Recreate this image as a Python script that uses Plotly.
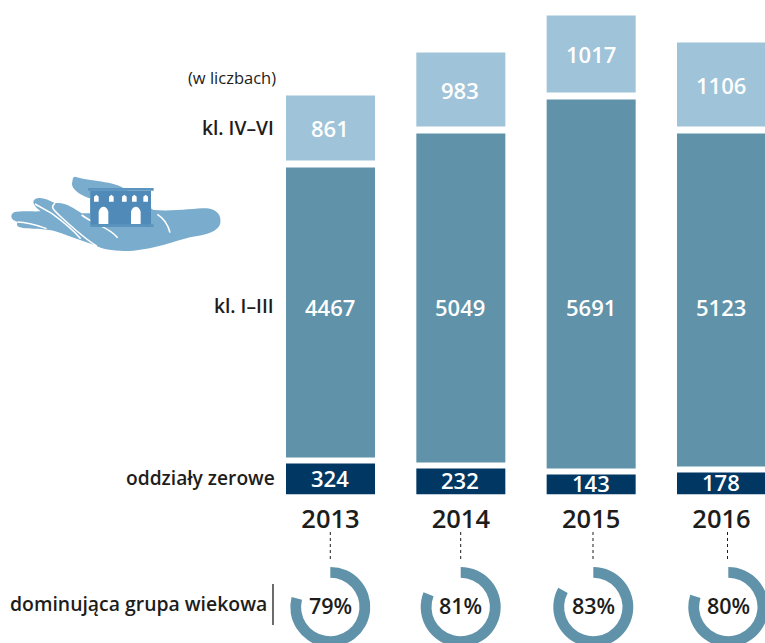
import plotly.graph_objects as go

years = ["2013", "2014", "2015", "2016"]
kl_4_6 = [861, 983, 1017, 1106]
kl_1_3 = [4467, 5049, 5691, 5123]
zerowe = [324, 232, 143, 178]
# drawn lengths (the source infographic is not to a common scale)
kl_4_6_len = [65, 74, 77, 84]
kl_1_3_len = [290, 329, 369, 333]
zerowe_len = [31, 26, 20, 22]
dominant = [79, 81, 83, 80]

W, H = 790, 665
BASE = 494.5
STEP = 130.33
X0 = 330.5
FONT = "Open Sans"
INK = "#1d1d1b"
C_LIGHT, C_MID, C_DARK = "#9fc3d8", "#6093a9", "#003763"
GAP1, GAP2 = 6, 7
MID_LABEL_ROW = BASE - 307   # the mid-segment labels sit in one row in the source


def fx(x):
    return x / W


def fy(y):
    return 1 - y / H


fig = go.Figure()
annotations = []
mid_base = [z + GAP1 for z in zerowe_len]
top_base = [b + m + GAP2 for b, m in zip(mid_base, kl_1_3_len)]
for vals, lens, base, col, row, nudge in [
    (zerowe, zerowe_len, [0, 0, 0, 0], C_DARK, None, 1.5),
    (kl_1_3, kl_1_3_len, mid_base, C_MID, MID_LABEL_ROW, 0),
    (kl_4_6, kl_4_6_len, top_base, C_LIGHT, None, 0),
]:
    fig.add_trace(go.Bar(
        x=years, y=lens, base=base, marker=dict(color=col, line_width=0),
        width=89 / STEP, hoverinfo="skip", showlegend=False,
    ))
    for i, (v, l, b) in enumerate(zip(vals, lens, base)):
        annotations.append(dict(x=i, y=row if row is not None else b + l / 2 + nudge, xref="x", yref="y",
                                text=str(v), showarrow=False, xanchor="center", yanchor="middle", xshift=-0.5,
                                font=dict(family=FONT, size=22, color="white", weight=600)))

donut_cx = [330.3, 460.7, 593.3, 728.3]
CY, R = 607, 40
for cx, pct in zip(donut_cx, dominant):
    fig.add_trace(go.Pie(
        values=[pct, 100 - pct], sort=False, direction="clockwise", rotation=0,
        hole=0.73, textinfo="none", hoverinfo="skip", showlegend=False,
        marker=dict(colors=[C_MID, "rgba(0,0,0,0)"], line_width=0),
        domain=dict(x=[fx(cx - R), fx(cx + R)], y=[fy(CY + R), fy(CY - R)]),
    ))
    annotations.append(dict(x=fx(cx), y=fy(605.5), text=f"{pct}%", xref="paper", yref="paper",
                            showarrow=False, xanchor="center", yanchor="middle",
                            font=dict(family=FONT, size=21.5, color=INK, weight=600)))

for text, rx, y, size, weight in [
    ("(w liczbach)", 278, 77, 16.5, 400),
    ("kl. IV–VI", 276, 127, 19.2, 600),
    ("kl. I–III", 276, 305, 19.2, 600),
    ("oddziały zerowe", 277, 477, 19.2, 600),
    ("dominująca grupa wiekowa", 268.5, 603, 19.4, 600),
]:
    annotations.append(dict(x=fx(rx), y=fy(y), text=text, xref="paper", yref="paper", showarrow=False,
                            xanchor="right", yanchor="middle",
                            font=dict(family=FONT, size=size, color=INK, weight=weight)))

shapes = []
for x in [330.3, 460.7, 593, 727.5]:
    shapes.append(dict(type="line", xref="paper", yref="paper", x0=fx(x), x1=fx(x), y0=fy(532), y1=fy(562),
                       line=dict(color=INK, width=1, dash="3px,3px")))
shapes.append(dict(type="line", xref="paper", yref="paper", x0=fx(273), x1=fx(273), y0=fy(584), y1=fy(625),
                   line=dict(color=INK, width=1.3)))


# decorative hand-and-building icon, points in zoomed-crop pixels
def z(px, py):
    return f"{fx(px / 3):.5f},{fy(160 + py / 3):.5f}"


def path(cmds):
    out = []
    for c in cmds:
        if isinstance(c, str):
            out.append(c)
        else:
            out.append(" ".join(z(*c[i:i + 2]) for i in range(0, len(c), 2)))
    return " ".join(out)


def area(cmds, color):
    shapes.append(dict(type="path", xref="paper", yref="paper", path=path(cmds),
                       fillcolor=color, line=dict(width=0)))


def stroke(cmds, width=1.6):
    shapes.append(dict(type="path", xref="paper", yref="paper", path=path(cmds),
                       line=dict(color="white", width=width)))


HAND = "#7aaccd"
BLD = "#4f8ab8"
area(["M", (225, 50), "C", (270, 65, 340, 60, 380, 90), "L", (460, 150),
      "C", (520, 155, 580, 145, 620, 145), "C", (650, 148, 665, 165, 661, 190),
      "C", (655, 215, 620, 225, 570, 232), "C", (520, 245, 470, 265, 400, 272),
      "C", (350, 275, 310, 270, 285, 256), "L", (200, 226), "C", (170, 212, 140, 206, 100, 206),
      "C", (80, 206, 55, 204, 51, 196), "L", (52, 186), "C", (30, 178, 30, 165, 42, 157),
      "C", (60, 152, 95, 155, 122, 154), "C", (110, 145, 95, 130, 102, 120),
      "C", (115, 108, 140, 115, 165, 130), "C", (195, 125, 220, 145, 245, 160),
      "L", (270, 160), "L", (270, 115), "C", (240, 105, 210, 85, 217, 65), "C", (218, 55, 220, 50, 225, 50), "Z"], HAND)
stroke(["M", (52, 186), "C", (85, 186, 110, 195, 140, 206)], 1.3)
stroke(["M", (105, 132), "L", (155, 160), "C", (190, 185, 215, 205, 242, 236)])
stroke(["M", (165, 130), "C", (150, 140, 160, 150, 180, 168), "C", (220, 205, 260, 240, 290, 258)])
stroke(["M", (245, 165), "C", (285, 195, 325, 200, 353, 233)])
stroke(["M", (472, 163), "C", (492, 175, 503, 190, 510, 218)])
area(["M", (271, 92), "L", (453, 92), "L", (453, 195), "L", (271, 195), "Z"], BLD)
area(["M", (264, 84), "L", (461, 84), "L", (461, 92), "L", (264, 92), "Z"], "#5a94bf")
area(["M", (271, 193), "L", (461, 193), "L", (461, 201), "L", (271, 201), "Z"], "#5a94bf")
for wx in [282, 327, 366, 396, 430]:
    area(["M", (wx, 125), "L", (wx, 110), "L", (wx + 7, 104), "L", (wx + 14, 110), "L", (wx + 14, 125), "Z"], "white")
for dx in [296, 393]:
    area(["M", (dx, 192), "L", (dx, 155), "C", (dx + 5, 135, dx + 24, 135, dx + 29, 155), "L", (dx + 29, 192), "Z"], "white")

fig.update_layout(
    width=W, height=H, margin=dict(l=0, r=0, t=0, b=0), autosize=False,
    paper_bgcolor="white", plot_bgcolor="white", barmode="overlay",
    annotations=annotations, shapes=shapes,
    xaxis=dict(type="category", domain=[0, 1], range=[-X0 / STEP, (W - X0) / STEP], showgrid=False, zeroline=False,
               showline=False, ticks="", ticklabelstandoff=7,
               tickfont=dict(family=FONT, size=25.5, color=INK, weight=600), fixedrange=True),
    yaxis=dict(domain=[fy(BASE), 1], range=[0, BASE], visible=False, fixedrange=True),
)

fig.write_html("out.html", config=dict(displayModeBar=False),
               post_script="document.body.style.margin='0';document.documentElement.style.overflow='hidden';document.body.style.overflow='hidden';")
